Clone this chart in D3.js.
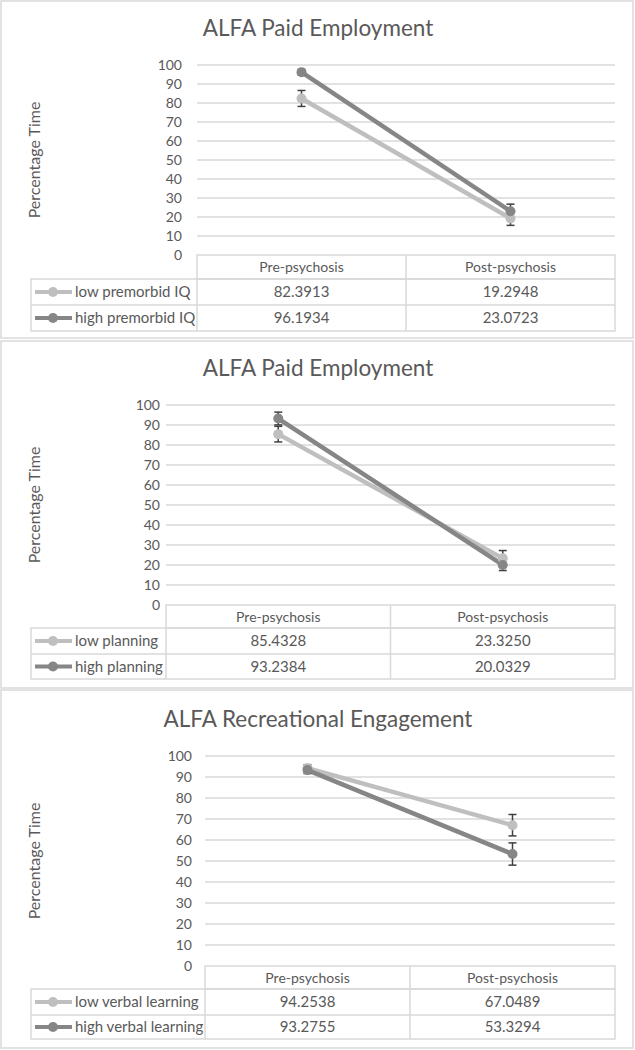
<!DOCTYPE html>
<html>
<head>
<meta charset="utf-8">
<script src="https://cdn.jsdelivr.net/npm/d3@7"></script>
<style>
  html, body { margin: 0; padding: 0; background: #fff; }
  svg { display: block; }
  text { font-family: Lato, "Open Sans", sans-serif; fill: #595959; }
</style>
</head>
<body>
<svg id="chart" width="635" height="1050"></svg>
<script>
// ---- data ----
const categories = ["Pre-psychosis", "Post-psychosis"];
const yTickValues = [0, 10, 20, 30, 40, 50, 60, 70, 80, 90, 100];
const titles = ["ALFA Paid Employment", "ALFA Paid Employment", "ALFA Recreational Engagement"];
const yAxisTitle = "Percentage Time";
const lowNames = ["low premorbid IQ", "low planning", "low verbal learning"];
const highNames = ["high premorbid IQ", "high planning", "high verbal learning"];
const lowValues1 = [82.3913, 19.2948];
const highValues1 = [96.1934, 23.0723];
const lowValues2 = [85.4328, 23.3250];
const highValues2 = [93.2384, 20.0329];
const lowValues3 = [94.2538, 67.0489];
const highValues3 = [93.2755, 53.3294];
const lowErr1 = [4.2, 3.7];
const highErr1 = [1.5, 3.7];
const lowErr2 = [3.9, 3.9];
const highErr2 = [3.2, 2.8];
const lowErr3 = [1.6, 5.1];
const highErr3 = [1.6, 5.3];
const lowLabels1 = ["82.3913", "19.2948"];
const highLabels1 = ["96.1934", "23.0723"];
const lowLabels2 = ["85.4328", "23.3250"];
const highLabels2 = ["93.2384", "20.0329"];
const lowLabels3 = ["94.2538", "67.0489"];
const highLabels3 = ["93.2755", "53.3294"];

// ---- layout (not data) ----
const layouts = [
  { boxTop: 1, boxBottom: 338, titleY: 36, y100: 65, y0: 255, left: 197, tickX: 182, rows: [255, 279, 305, 331] },
  { boxTop: 341, boxBottom: 688, titleY: 376, y100: 405, y0: 605, left: 166, tickX: 160, rows: [605, 628, 654, 679] },
  { boxTop: 690, boxBottom: 1048, titleY: 727, y100: 756, y0: 966, left: 205, tickX: 192, rows: [966, 989, 1015, 1039] }
];
const panels = [
  { low: lowValues1, high: highValues1, lowE: lowErr1, highE: highErr1, lowL: lowLabels1, highL: highLabels1 },
  { low: lowValues2, high: highValues2, lowE: lowErr2, highE: highErr2, lowL: lowLabels2, highL: highLabels2 },
  { low: lowValues3, high: highValues3, lowE: lowErr3, highE: highErr3, lowL: lowLabels3, highL: highLabels3 }
];
const right = 615, tableLeft = 31;
const lowColor = "#BFBFBF", highColor = "#868686", gridColor = "#D9D9D9", errColor = "#404040";

const svg = d3.select("#chart");

panels.forEach((p, i) => {
  const L = layouts[i];
  const g = svg.append("g");
  // panel box
  g.append("rect").attr("x", 1).attr("y", L.boxTop).attr("width", 632).attr("height", L.boxBottom - L.boxTop)
    .attr("fill", "#fff").attr("stroke", gridColor).attr("stroke-width", 1.5);

  const x = d3.scaleBand().domain(categories).range([L.left, right]).paddingInner(0).paddingOuter(0);
  const y = d3.scaleLinear().domain([0, 100]).range([L.y0, L.y100]);

  // title
  g.append("text").attr("x", 318).attr("y", L.titleY).attr("text-anchor", "middle")
    .style("font-size", "22.5px").text(titles[i]);

  // y axis title
  g.append("text")
    .attr("transform", `translate(40,${(L.y0 + L.y100) / 2}) rotate(-90)`)
    .attr("text-anchor", "middle").style("font-size", "16px").text(yAxisTitle);

  // gridlines
  g.append("g").selectAll("line").data(yTickValues.filter(v => v > 0)).join("line")
    .attr("x1", L.left).attr("x2", right)
    .attr("y1", d => y(d)).attr("y2", d => y(d))
    .attr("stroke", gridColor).attr("stroke-width", 1.5);

  // y axis tick labels via d3 axis
  const yAxis = d3.axisLeft(y).tickValues(yTickValues).tickSize(0).tickPadding(0);
  const ax = g.append("g").attr("transform", `translate(${L.tickX},0)`).call(yAxis);
  ax.select(".domain").remove();
  ax.selectAll("text").style("font-size", "14px").style("font-family", "Lato, 'Open Sans', sans-serif").attr("fill", "#595959");

  // table
  const r = L.rows;
  const tg = g.append("g").attr("stroke", gridColor).attr("stroke-width", 1.5).attr("fill", "none");
  tg.append("rect").attr("x", L.left).attr("y", r[0]).attr("width", right - L.left).attr("height", r[1] - r[0]);
  tg.append("rect").attr("x", tableLeft).attr("y", r[1]).attr("width", right - tableLeft).attr("height", r[3] - r[1]);
  tg.append("line").attr("x1", tableLeft).attr("x2", right).attr("y1", r[2]).attr("y2", r[2]);
  tg.append("line").attr("x1", L.left).attr("x2", L.left).attr("y1", r[1]).attr("y2", r[3]);
  tg.append("line").attr("x1", x(categories[1])).attr("x2", x(categories[1])).attr("y1", r[0]).attr("y2", r[3]);

  // header texts
  g.selectAll(".hdr").data(categories).join("text")
    .attr("x", d => x(d) + x.bandwidth() / 2).attr("y", (r[0] + r[1]) / 2 + 5)
    .attr("text-anchor", "middle").style("font-size", "14px").text(d => d);

  const rowsData = [
    { name: lowNames[i], color: lowColor, labels: p.lowL, y: (r[1] + r[2]) / 2 },
    { name: highNames[i], color: highColor, labels: p.highL, y: (r[2] + r[3]) / 2 }
  ];
  rowsData.forEach(rd => {
    g.append("line").attr("x1", 35).attr("x2", 72).attr("y1", rd.y).attr("y2", rd.y)
      .attr("stroke", rd.color).attr("stroke-width", 4);
    g.append("circle").attr("cx", 53).attr("cy", rd.y).attr("r", 5).attr("fill", rd.color);
    g.append("text").attr("x", 75).attr("y", rd.y + 5).style("font-size", "15px").text(rd.name);
    categories.forEach((c, k) => {
      g.append("text").attr("x", x(c) + x.bandwidth() / 2).attr("y", rd.y + 5)
        .attr("text-anchor", "middle").style("font-size", "15px").text(rd.labels[k]);
    });
  });

  // series
  const series = [
    { vals: p.low, errs: p.lowE, color: lowColor },
    { vals: p.high, errs: p.highE, color: highColor }
  ];
  const cx = c => x(c) + x.bandwidth() / 2;
  const line = d3.line().x((d, k) => cx(categories[k])).y(d => y(d));
  series.forEach(s => {
    g.append("path").datum(s.vals).attr("d", line).attr("fill", "none")
      .attr("stroke", s.color).attr("stroke-width", 4.5).attr("stroke-linecap", "round");
  });
  // error bars
  series.forEach(s => {
    const eg = g.append("g").attr("stroke", errColor).attr("stroke-width", 1.5);
    s.vals.forEach((v, k) => {
      const xc = cx(categories[k]);
      const yt = y(v + s.errs[k]), yb = y(v - s.errs[k]);
      eg.append("line").attr("x1", xc).attr("x2", xc).attr("y1", yt).attr("y2", yb);
      eg.append("line").attr("x1", xc - 4).attr("x2", xc + 4).attr("y1", yt).attr("y2", yt);
      eg.append("line").attr("x1", xc - 4).attr("x2", xc + 4).attr("y1", yb).attr("y2", yb);
    });
  });
  series.forEach(s => {
    g.append("g").selectAll("circle").data(s.vals).join("circle")
      .attr("cx", (d, k) => cx(categories[k])).attr("cy", d => y(d)).attr("r", 5)
      .attr("fill", s.color);
  });
});
</script>
</body>
</html>
